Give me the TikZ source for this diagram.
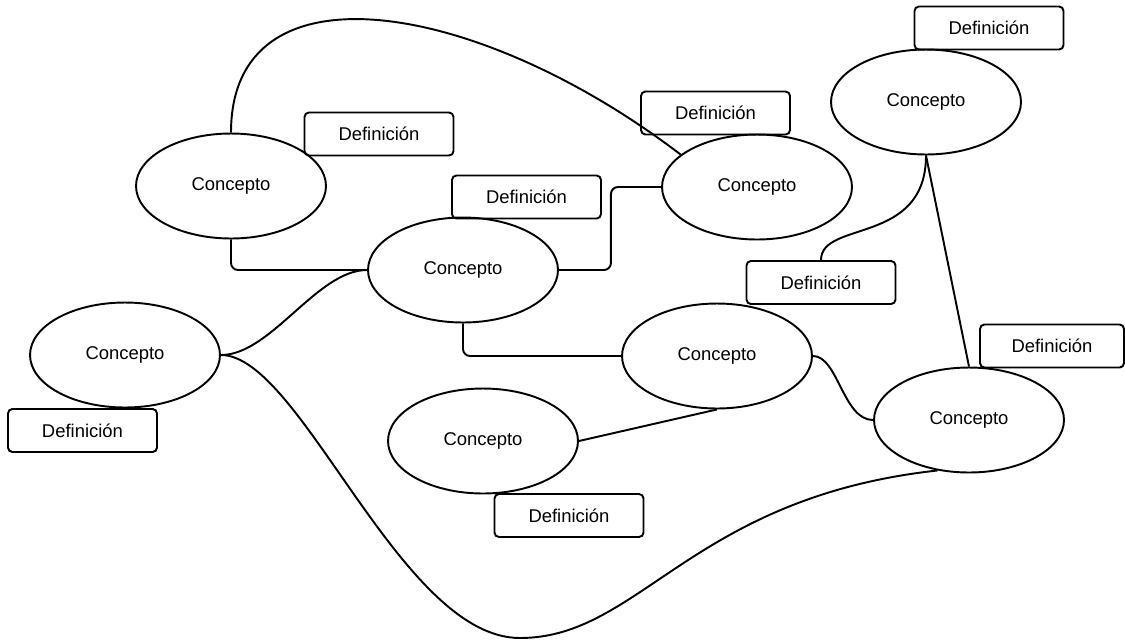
\documentclass[tikz,border=0pt]{standalone}
\usepackage{fontspec}
\setmainfont{Liberation Sans}
\usetikzlibrary{shapes.geometric, calc}

\begin{document}
\begin{tikzpicture}[x=0.02cm, y=-0.02cm, line width=1.1pt,
	every node/.style = {font=\fontsize{10.5}{12}\selectfont},
	concept/.style = {draw, ellipse, minimum width=3.8cm, minimum height=2.1cm, inner sep=0pt},
	defbox/.style = {draw, rounded corners=2.5pt, minimum width=2.98cm, minimum height=0.86cm, inner sep=0pt}
]
\useasboundingbox (0, 0) rectangle (1125, 640);
\node[concept] (c1) at (125, 355) {Concepto};
\node[concept] (c2) at (231, 186) {Concepto};
\node[concept] (c3) at (463, 270) {Concepto};
\node[concept] (c4) at (757, 187) {Concepto};
\node[concept] (c5) at (926, 102) {Concepto};
\node[concept] (c6) at (717, 356) {Concepto};
\node[concept] (c7) at (483, 441) {Concepto};
\node[concept] (c8) at (969, 420) {Concepto};

\node[defbox] (d1) at (82.5, 430.5) {Definición};
\node[defbox] (d2) at (379, 134) {Definición};
\node[defbox] (d3) at (526.5, 197) {Definición};
\node[defbox] (d4) at (715.5, 113) {Definición};
\node[defbox] (d5) at (989, 28) {Definición};
\node[defbox] (d6) at (821, 282.5) {Definición};
\node[defbox, minimum width=2.88cm] (d7) at (1052, 346) {Definición};
\node[defbox] (d8) at (569, 515.5) {Definición};

\coordinate (low) at (520, 638);

\draw (c1.east) .. controls +(50, 0) and +(-50, 0) .. (c3.west);
\draw (c1.east) .. controls +(80, 0) and +(-120, 0) .. (low)
	.. controls +(120, 0) and +(-246, 27) .. (c8.238);
\draw (c2.north) .. controls +(0, -174) and +(-203, -155) .. (c4.157);
\draw[rounded corners=4pt] (c2.south) |- (c3.west);
\draw[rounded corners=4pt] (c3.east) -- ++(52, 0) |- (c4.west);
\draw[rounded corners=4pt] (c3.south) |- (c6.west);
\draw (c7.east) -- (c6.south);
\draw (c6.east) .. controls +(25, 0) and +(-30, 0) .. (c8.west);
\draw (c5.south) .. controls +(0, 90) and +(0, -40) .. (d6.north);
\draw (c5.south) -- (c8.north);
\end{tikzpicture}
\end{document}
